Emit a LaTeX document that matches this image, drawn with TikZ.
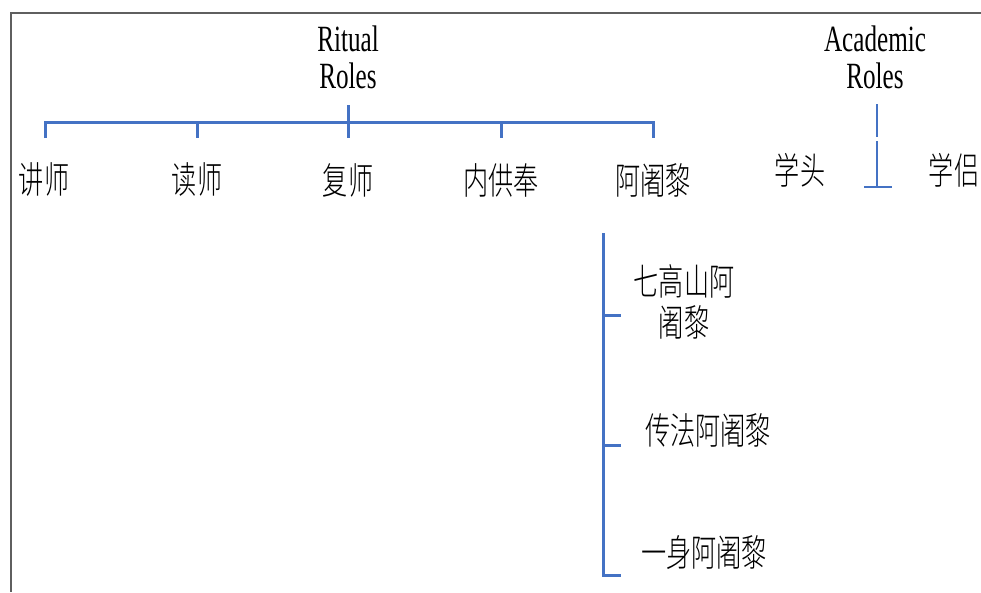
\documentclass[tikz,border=0pt]{standalone}
\usepackage{fontspec}
\setmainfont{Liberation Serif}
\newfontfamily\cjk{Noto Sans CJK SC Light}
\definecolor{linkblue}{RGB}{68,114,196}
\definecolor{framegray}{RGB}{95,95,95}
\newcommand{\sqz}[1]{\scalebox{0.68}[1]{#1}}
\begin{document}
\begin{tikzpicture}[x=1pt,y=-1pt,
  title/.style={inner sep=0pt,font=\fontsize{37}{37}\selectfont},
  role/.style={inner sep=0pt,font=\cjk\fontsize{37}{41}\selectfont},
  link/.style={draw=linkblue,line width=3pt},
  thinlink/.style={draw=linkblue,line width=1.6pt},
  frame/.style={draw=framegray,line width=1.6pt}]
\useasboundingbox (0,0) rectangle (981,592);
\fill[white] (0,0) rectangle (981,592);
\draw[frame] (981,13) -- (11,13) -- (11,592);

% Ritual roles
\node[title] (ritual) at (348,63) {\sqz{\begin{tabular}{@{}c@{}}Ritual\\Roles\end{tabular}}};
\node[role] (r1) at (44,180) {\sqz{讲师}};
\node[role] (r2) at (197,180) {\sqz{读师}};
\node[role] (r3) at (348,180) {\sqz{复师}};
\node[role] (r4) at (501,180) {\sqz{内供奉}};
\node[role] (r5) at (653,180) {\sqz{阿阇黎}};

\coordinate (bartop) at (348,105);
\coordinate (b1) at (45,122);
\coordinate (b2) at (197,122);
\coordinate (b3) at (348,122);
\coordinate (b4) at (501,122);
\coordinate (b5) at (653,122);
\coordinate (e1) at (45,138);
\coordinate (e2) at (197,138);
\coordinate (e3) at (348,138);
\coordinate (e4) at (501,138);
\coordinate (e5) at (653,138);
\draw[link] (e1) -- (b1) -- (b5) -- (e5);
\draw[link] (b2) -- (e2);
\draw[link] (b4) -- (e4);
\draw[link] (bartop) -- (e3);

% Academic roles
\node[title] (academic) at (875,63) {\sqz{\begin{tabular}{@{}c@{}}Academic\\Roles\end{tabular}}};
\node[role] (a1) at (800,170) {\sqz{学头}};
\node[role] (a2) at (954,170) {\sqz{学侣}};
\coordinate (at1) at (877,104);
\coordinate (at2) at (877,137);
\coordinate (at3) at (877,141);
\coordinate (at4) at (877,187);
\coordinate (al) at (864,187);
\coordinate (ar) at (892,187);
\draw[thinlink] (at1) -- (at2);
\draw[thinlink] (at3) -- (at4);
\draw[thinlink] (al) -- (ar);

% Acharya sub-roles
\node[role,align=center] (s1) at (684,302) {\sqz{七高山阿}\\\sqz{阇黎}};
\node[role] (s2) at (708,430) {\sqz{传法阿阇黎}};
\node[role] (s3) at (704,553) {\sqz{一身阿阇黎}};
\coordinate (vtop) at (603,233);
\coordinate (v1) at (603,315);
\coordinate (v2) at (603,445);
\coordinate (v3) at (603,575);
\coordinate (t1) at (621,315);
\coordinate (t2) at (621,445);
\coordinate (t3) at (621,575);
\draw[link] (vtop) -- (v3) -- (t3);
\draw[link] (v1) -- (t1);
\draw[link] (v2) -- (t2);
\end{tikzpicture}
\end{document}
